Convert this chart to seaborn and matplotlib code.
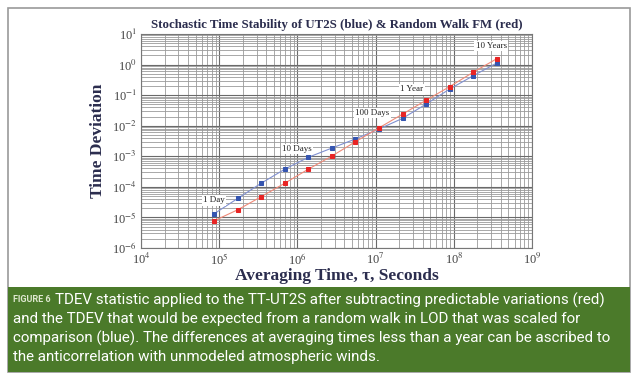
import numpy as np
import pandas as pd
import matplotlib
matplotlib.use("Agg")
import matplotlib.pyplot as plt
import seaborn as sns
from matplotlib.ticker import LogLocator, NullFormatter, FuncFormatter
from matplotlib.patches import Rectangle

# ---- data ----
tau_s = [86400 * 2 ** k for k in range(13)]   # 1 day .. ~11 years, octave steps
ut2s_blue = [1.32e-5, 4.2e-5, 1.32e-4, 3.8e-4, 9.3e-4, 1.86e-3, 3.7e-3,
             7.8e-3, 1.74e-2, 5.1e-2, 0.158, 0.43, 1.12]
rwfm_red = [7.8e-6, 1.78e-5, 4.8e-5, 1.32e-4, 3.8e-4, 1.02e-3, 3.0e-3,
            8.5e-3, 2.4e-2, 6.8e-2, 0.19, 0.56, 1.55]

span_labels = ["1 Day", "10 Days", "100 Days", "1 Year", "10 Years"]
span_x = [8.6e4, 9.9e5, 9.0e6, 2.92e7, 3.0e8]
span_y = [3.6e-5, 1.75e-3, 2.6e-2, 0.153, 4.05]

caption = ["TDEV statistic applied to the TT-UT2S after subtracting predictable variations (red)",
           "and the TDEV that would be expected from a random walk in LOD that was scaled for",
           "comparison (blue). The differences at averaging times less than a year can be ascribed to",
           "the anticorrelation with unmodeled atmospheric winds."]

df = pd.DataFrame({"tau": tau_s * 2,
                   "tdev": ut2s_blue + rwfm_red,
                   "series": ["UT2S"] * len(tau_s) + ["RWFM"] * len(tau_s)})

sns.set_theme(style="white")
plt.rcParams["font.family"] = ["Liberation Serif", "DejaVu Serif"]
plt.rcParams["mathtext.fontset"] = "stix"
plt.rcParams["axes.unicode_minus"] = False

fig = plt.figure(figsize=(6.4, 3.8), dpi=100)
ax = fig.add_axes([141 / 640, 1 - 248 / 380, 391 / 640, 214 / 380])

sns.lineplot(data=df[df.series == "UT2S"], x="tau", y="tdev", ax=ax,
             color="#8090d0", lw=0.8, marker="s", markersize=3.2,
             markerfacecolor="#3555b0", markeredgecolor="#3555b0")
sns.lineplot(data=df[df.series == "RWFM"], x="tau", y="tdev", ax=ax,
             color="#f08a78", lw=0.8, marker="s", markersize=3.2,
             markerfacecolor="#e82424", markeredgecolor="#e82424")

ax.set_xscale("log")
ax.set_yscale("log")
ax.set_xlim(1e4, 1e9)
ax.set_ylim(1e-6, 1e1)
ax.xaxis.set_major_locator(LogLocator(base=10, numticks=12))
ax.yaxis.set_major_locator(LogLocator(base=10, numticks=12))
ax.xaxis.set_minor_locator(LogLocator(base=10, subs=np.arange(2, 10), numticks=12))
ax.yaxis.set_minor_locator(LogLocator(base=10, subs=np.arange(2, 10), numticks=12))
pow_fmt = FuncFormatter(lambda v, p: "10$^{%d}$" % round(np.log10(v)))
ax.xaxis.set_major_formatter(pow_fmt)
ax.yaxis.set_major_formatter(pow_fmt)
ax.xaxis.set_minor_formatter(NullFormatter())
ax.yaxis.set_minor_formatter(NullFormatter())
ax.grid(which="major", color="#6a6a6a", lw=0.8)
ax.grid(which="minor", color="#9a9a9a", lw=0.6)
ax.tick_params(which="both", length=0, labelsize=9, labelcolor="#444444")
ax.tick_params(axis="x", pad=3)
ax.tick_params(axis="y", pad=3)
for s in ax.spines.values():
    s.set_color("#777777")
    s.set_linewidth(0.8)

ax.set_xlabel("Averaging Time, \u03c4, Seconds", fontsize=12.5, fontweight="bold",
              color="#2b2d4e", labelpad=0)
ax.set_ylabel("Time Deviation", fontsize=12.5, fontweight="bold",
              color="#2b2d4e", labelpad=4)
ax.set_title("Stochastic Time Stability of UT2S (blue) & Random Walk FM (red)",
             fontsize=9.3, fontweight="bold", color="#2b2d4e", pad=4)

for lab, x, y in zip(span_labels, span_x, span_y):
    ax.text(x, y, lab, fontsize=6.5, ha="center", va="center", color="#222222",
            bbox=dict(boxstyle="square,pad=0.15", fc="white", ec="none"))

# outer frame and green caption panel
fig.patches.append(Rectangle((8 / 640, 8 / 380), 622 / 640, 364 / 380,
                             transform=fig.transFigure, fill=False,
                             ec="#9a9a9a", lw=1.2))
fig.patches.append(Rectangle((8 / 640, 8 / 380), 622 / 640, 85 / 380,
                             transform=fig.transFigure, fc="#4b7a2a", ec="none"))

cap_font = ["Roboto", "DejaVu Sans"]
fig.text(13 / 640, 1 - 300 / 380, "FIGURE 6", fontsize=6.5, color="#dfe8d0",
         family=cap_font, fontweight="bold", va="center")
ytop = 300
for i, line in enumerate(caption):
    x0 = 55 if i == 0 else 13
    fig.text(x0 / 640, 1 - (ytop + 19 * i) / 380, line, fontsize=10.9,
             color="white", family=cap_font, va="center")

fig.savefig("out.png", dpi=100)
